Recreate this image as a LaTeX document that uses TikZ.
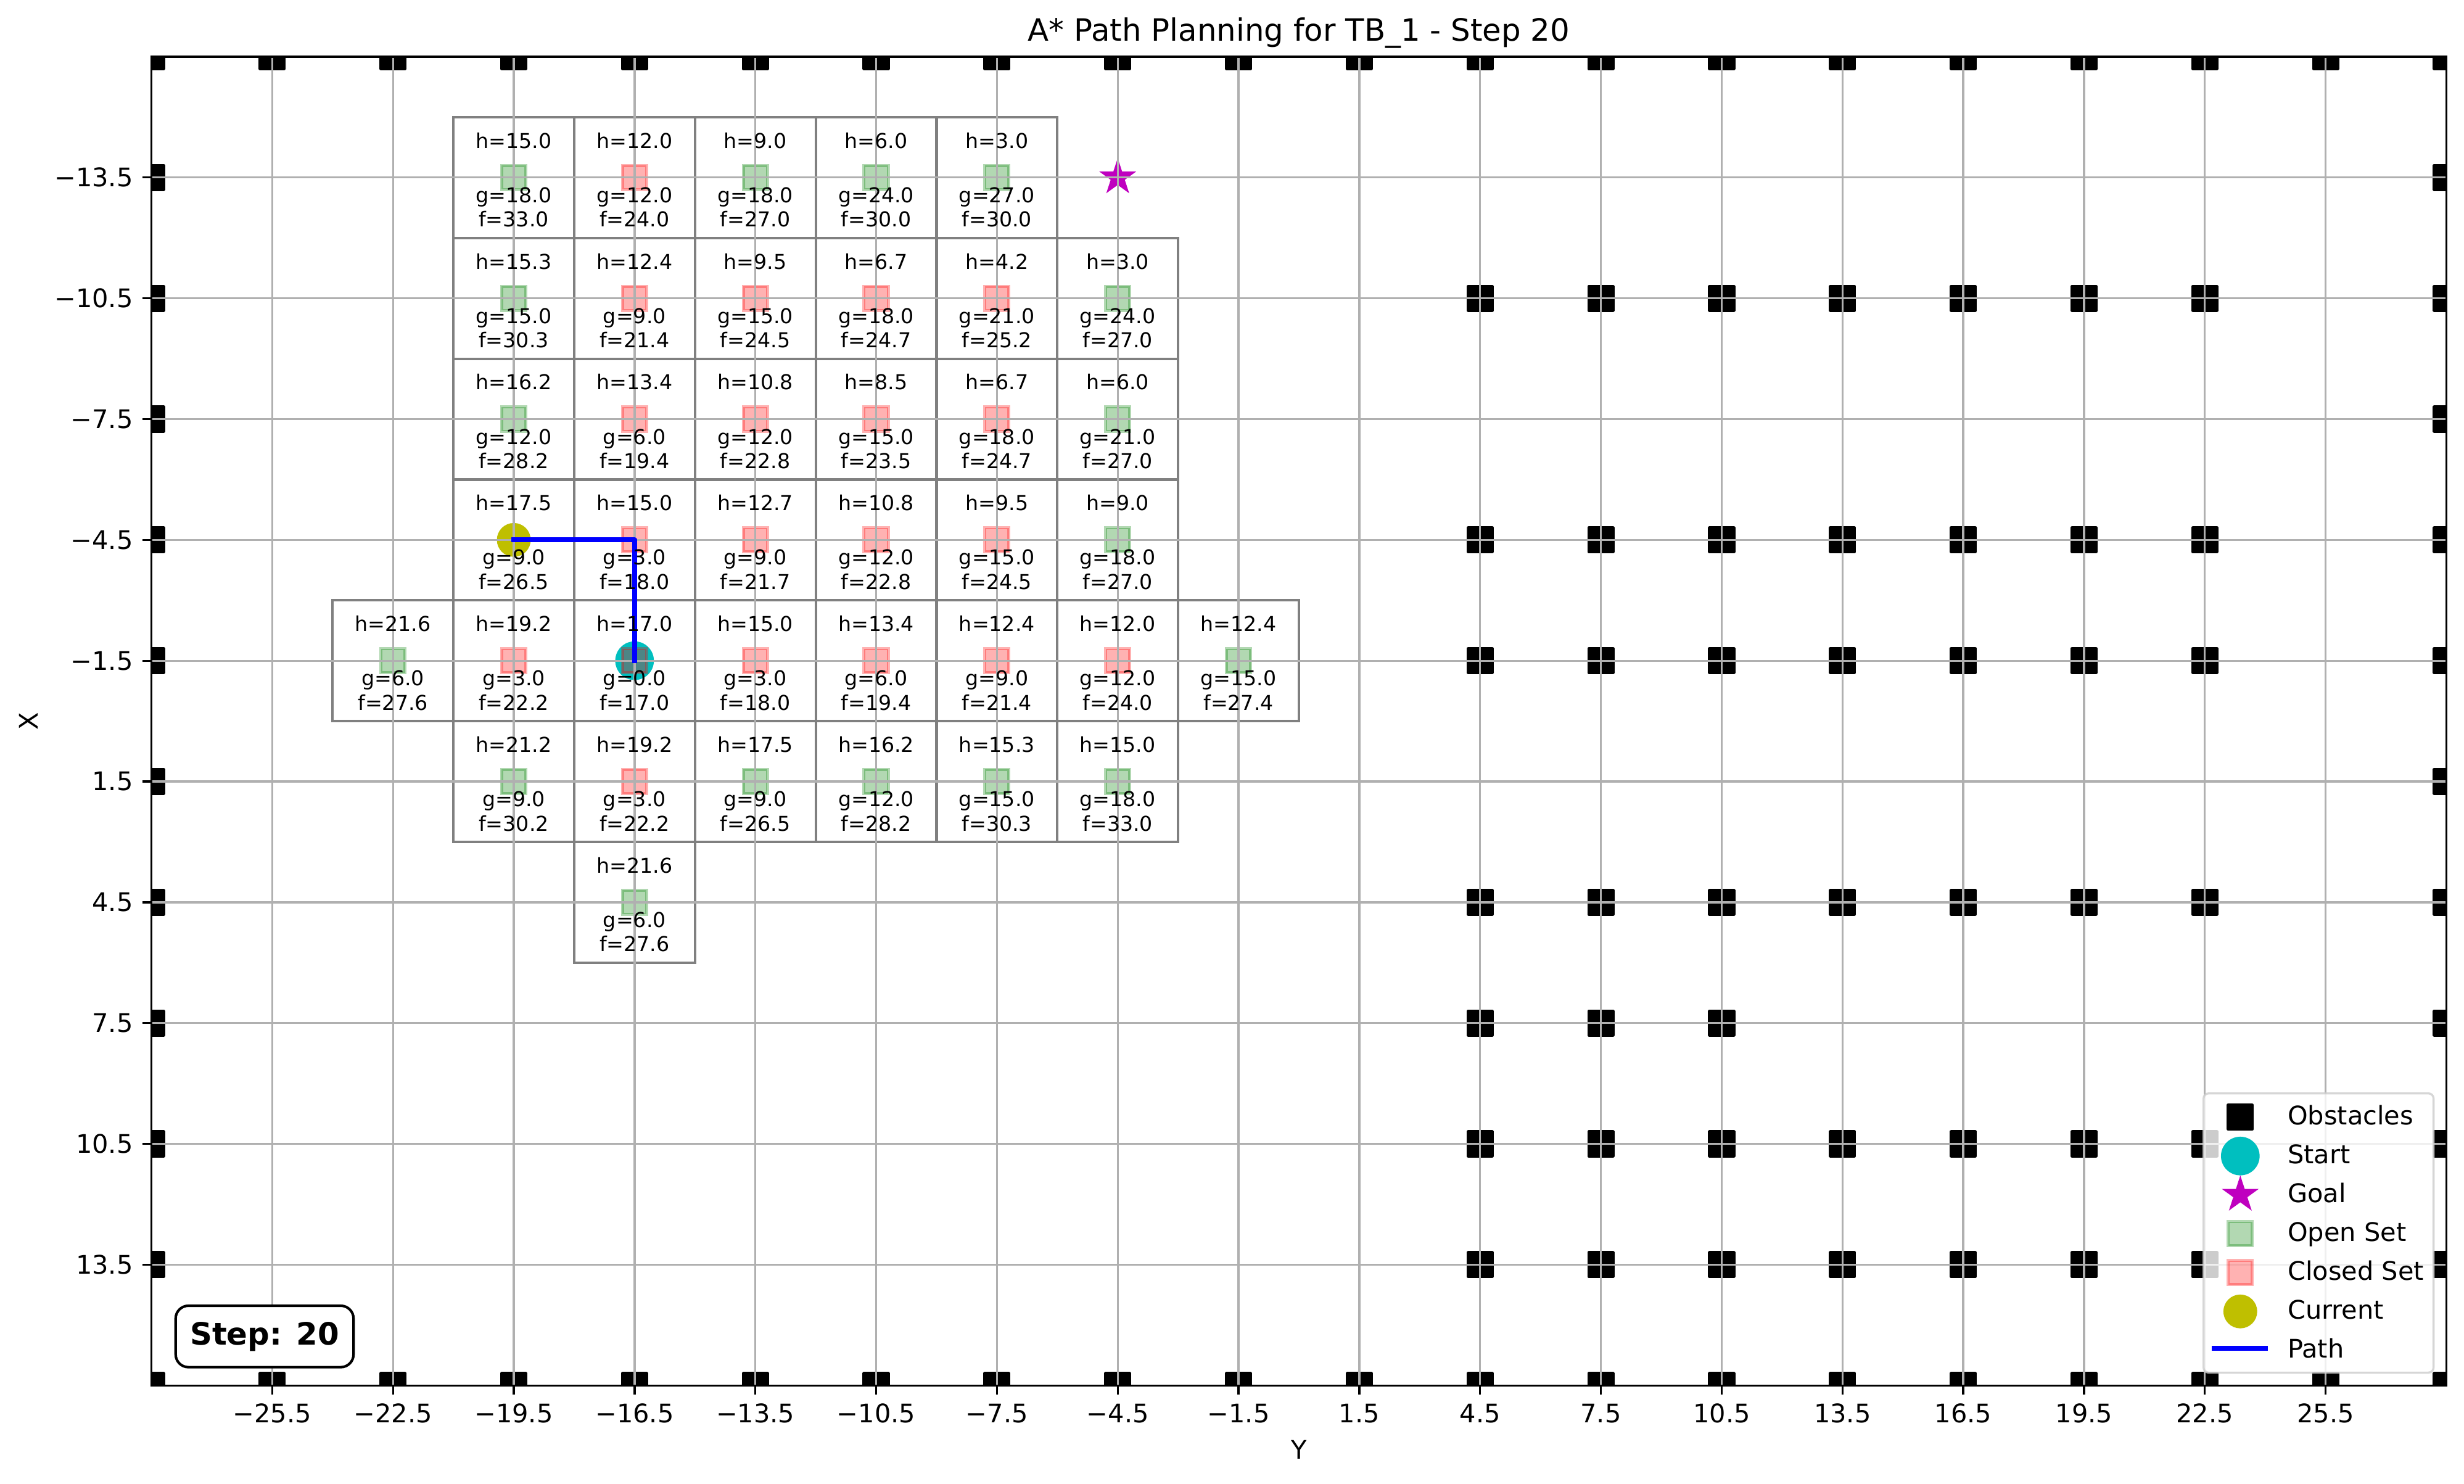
\documentclass[tikz,border=0pt]{standalone}
\usepackage{fontspec}
\setmainfont{DejaVu Sans}
\usetikzlibrary{shapes.geometric}

\definecolor{mplgreen}{RGB}{0,128,0}
\definecolor{mplred}{RGB}{255,0,0}
\definecolor{mplcyan}{RGB}{0,191,191}
\definecolor{mplmag}{RGB}{191,0,191}
\definecolor{mplyellow}{RGB}{191,191,0}
\definecolor{mplblue}{RGB}{0,0,255}
\definecolor{gridgray}{RGB}{176,176,176}
\definecolor{boxgray}{RGB}{128,128,128}
\definecolor{framegray}{RGB}{204,204,204}

% tick numbers with a real minus sign
\def\tickneg-#1\relax{−#1}
\newcommand\ticklab[1]{\ifdim#1pt<0pt\relax\expandafter\tickneg#1\relax\else#1\fi}

\def\Ycols{-28.5,-25.5,-22.5,-19.5,-16.5,-13.5,-10.5,-7.5,-4.5,-1.5,1.5,4.5,7.5,10.5,13.5,16.5,19.5,22.5,25.5,28.5}
\def\Yticks{-25.5,-22.5,-19.5,-16.5,-13.5,-10.5,-7.5,-4.5,-1.5,1.5,4.5,7.5,10.5,13.5,16.5,19.5,22.5,25.5}
\def\Xticks{-13.5,-10.5,-7.5,-4.5,-1.5,1.5,4.5,7.5,10.5,13.5}

% explored cells: Y/X/h/g/f/marker
\def\cells{
  -19.5/-13.5/15.0/18.0/33.0/openset, -16.5/-13.5/12.0/12.0/24.0/closedset,
  -13.5/-13.5/9.0/18.0/27.0/openset, -10.5/-13.5/6.0/24.0/30.0/openset,
  -7.5/-13.5/3.0/27.0/30.0/openset,
  -19.5/-10.5/15.3/15.0/30.3/openset, -16.5/-10.5/12.4/9.0/21.4/closedset,
  -13.5/-10.5/9.5/15.0/24.5/closedset, -10.5/-10.5/6.7/18.0/24.7/closedset,
  -7.5/-10.5/4.2/21.0/25.2/closedset, -4.5/-10.5/3.0/24.0/27.0/openset,
  -19.5/-7.5/16.2/12.0/28.2/openset, -16.5/-7.5/13.4/6.0/19.4/closedset,
  -13.5/-7.5/10.8/12.0/22.8/closedset, -10.5/-7.5/8.5/15.0/23.5/closedset,
  -7.5/-7.5/6.7/18.0/24.7/closedset, -4.5/-7.5/6.0/21.0/27.0/openset,
  -19.5/-4.5/17.5/9.0/26.5/nomark, -16.5/-4.5/15.0/3.0/18.0/closedset,
  -13.5/-4.5/12.7/9.0/21.7/closedset, -10.5/-4.5/10.8/12.0/22.8/closedset,
  -7.5/-4.5/9.5/15.0/24.5/closedset, -4.5/-4.5/9.0/18.0/27.0/openset,
  -22.5/-1.5/21.6/6.0/27.6/openset, -19.5/-1.5/19.2/3.0/22.2/closedset,
  -16.5/-1.5/17.0/0.0/17.0/closedset, -13.5/-1.5/15.0/3.0/18.0/closedset,
  -10.5/-1.5/13.4/6.0/19.4/closedset, -7.5/-1.5/12.4/9.0/21.4/closedset,
  -4.5/-1.5/12.0/12.0/24.0/closedset, -1.5/-1.5/12.4/15.0/27.4/openset,
  -19.5/1.5/21.2/9.0/30.2/openset, -16.5/1.5/19.2/3.0/22.2/closedset,
  -13.5/1.5/17.5/9.0/26.5/openset, -10.5/1.5/16.2/12.0/28.2/openset,
  -7.5/1.5/15.3/15.0/30.3/openset, -4.5/1.5/15.0/18.0/33.0/openset,
  -16.5/4.5/21.6/6.0/27.6/openset}

\begin{document}
\begin{tikzpicture}[x=0.55272cm,y=-0.55272cm,
  obstacle/.style={fill=black,draw=black,line width=1.2pt,line join=round},
  openset/.style={fill=mplgreen,draw=mplgreen,fill opacity=0.3,draw opacity=0.3,line width=1.2pt},
  closedset/.style={fill=mplred,draw=mplred,fill opacity=0.3,draw opacity=0.3,line width=1.2pt},
  nomark/.style={draw=none,fill=none},
  gridline/.style={gridgray,line width=0.8pt},
  cellbox/.style={boxgray,line width=1pt},
  celltext/.style={font=\fontsize{8}{9.6}\selectfont,inner sep=0pt,anchor=base},
  ticklabel/.style={font=\fontsize{10}{12}\selectfont,inner sep=0pt},
  pathline/.style={mplblue,line width=2pt,line cap=rect,line join=round},
  goalstar/.style={star,star points=5,star point ratio=2.618,fill=mplmag,inner sep=0pt,minimum size=0.534cm},
  stepbox/.style={draw=black,line width=1pt,fill=white,rounded corners=5pt,inner sep=0pt,
    minimum width=2.442cm,minimum height=0.8435cm,font=\bfseries\fontsize{12}{14.4}\selectfont}]
  % canvas
  \useasboundingbox (-32.261,-17.909) rectangle (28.937,18.947);
  \fill[white] (-32.261,-17.909) rectangle (28.937,18.947);
  % cell boxes
  \foreach \cy/\cx/\h/\g/\f/\mk in \cells
    \draw[cellbox] (\cy-1.5,\cx-1.5) rectangle (\cy+1.5,\cx+1.5);
  % obstacles (clipped to the axes)
  \begin{scope}
    \clip (-28.5,-16.5) rectangle (28.5,16.5);
    \foreach \oy in \Ycols \foreach \ox in {-16.5,16.5}
      \filldraw[obstacle,shift={(\oy,\ox)}] (-0.3,-0.3) rectangle (0.3,0.3);
    \foreach \ox in \Xticks \foreach \oy in {-28.5,28.5}
      \filldraw[obstacle,shift={(\oy,\ox)}] (-0.3,-0.3) rectangle (0.3,0.3);
    \foreach \ox in {-10.5,-4.5,-1.5,4.5,10.5,13.5} \foreach \oy in {4.5,7.5,10.5,13.5,16.5,19.5,22.5}
      \filldraw[obstacle,shift={(\oy,\ox)}] (-0.3,-0.3) rectangle (0.3,0.3);
    \foreach \oy in {4.5,7.5,10.5}
      \filldraw[obstacle,shift={(\oy,7.5)}] (-0.3,-0.3) rectangle (0.3,0.3);
  \end{scope}
  % start and goal
  \coordinate (start) at (-16.5,-1.5);
  \coordinate (curr) at (-19.5,-4.5);
  \fill[mplcyan] (start) circle (0.48);
  \node[goalstar] (goal) at (-4.5,-13.5) {};
  % open and closed sets
  \foreach \cy/\cx/\h/\g/\f/\mk in \cells
    \filldraw[\mk,shift={(\cy,\cx)}] (-0.3,-0.3) rectangle (0.3,0.3);
  % current node
  \fill[mplyellow] (curr) circle (0.42);
  % grid
  \foreach \v in \Yticks \draw[gridline] (\v,-16.5) -- (\v,16.5);
  \foreach \v in \Xticks \draw[gridline] (-28.5,\v) -- (28.5,\v);
  % path so far
  \draw[pathline] (start) |- (curr);
  % spines and ticks
  \draw[line width=0.8pt] (-28.5,-16.5) rectangle (28.5,16.5);
  \foreach \v [count=\k] in \Yticks {
    \draw[line width=0.8pt] (\v,16.5) -- ++(0pt,-3.5pt);
    \node[ticklabel,anchor=north,yshift=-7pt] (xt\k) at (\v,16.5) {\ticklab{\v}};
  }
  \foreach \v [count=\k] in \Xticks {
    \draw[line width=0.8pt] (-28.5,\v) -- ++(-3.5pt,0pt);
    \node[ticklabel,anchor=east,xshift=-7pt] (yt\k) at (-28.5,\v) {\ticklab{\v}};
  }
  % cell values
  \foreach \cy/\cx/\h/\g/\f/\mk [count=\k] in \cells {
    \node[celltext] (h\k) at (\cy,\cx-0.729) {h=\h};
    \node[celltext] (g\k) at (\cy,\cx+0.621) {g=\g};
    \node[celltext] (f\k) at (\cy,\cx+1.226) {f=\f};
  }
  % step counter
  \node[stepbox] (step) at (-25.689,15.283) {Step: 20};
  % legend
  \draw[framegray,fill=white,fill opacity=0.8,draw opacity=0.8,line width=0.8pt,rounded corners=2pt]
    (22.468,9.246) rectangle (28.181,16.181);
  \filldraw[obstacle,shift={(23.381,9.837)}] (-0.3,-0.3) rectangle (0.3,0.3);
  \fill[mplcyan] (23.381,10.802) circle (0.48);
  \node[goalstar] (lgoal) at (23.381,11.767) {};
  \filldraw[openset,shift={(23.381,12.732)}] (-0.3,-0.3) rectangle (0.3,0.3);
  \filldraw[closedset,shift={(23.381,13.697)}] (-0.3,-0.3) rectangle (0.3,0.3);
  \fill[mplyellow] (23.381,14.662) circle (0.42);
  \coordinate (lpa) at (22.673,15.577);
  \coordinate (lpb) at (24.062,15.577);
  \draw[pathline,line cap=butt] (lpa) -- (lpb);
  \foreach \lab [count=\k from 0] in {Obstacles,Start,Goal,Open Set,Closed Set,Current,Path}
    \node[ticklabel,anchor=base west] (leg\k) at (24.545,9.787+0.965*\k+0.232) {\lab};
  % axis labels and title
  \node[ticklabel,anchor=base] (ylab) at (0,18.32) {Y};
  \node[ticklabel,anchor=base,rotate=90] (xlab) at (-31.311,0) {X};
  \node[font=\fontsize{12}{14.4}\selectfont,inner sep=0pt,anchor=base] (title) at (0,-16.883)
    {A* Path Planning for TB\_1 - Step 20};
\end{tikzpicture}
\end{document}
